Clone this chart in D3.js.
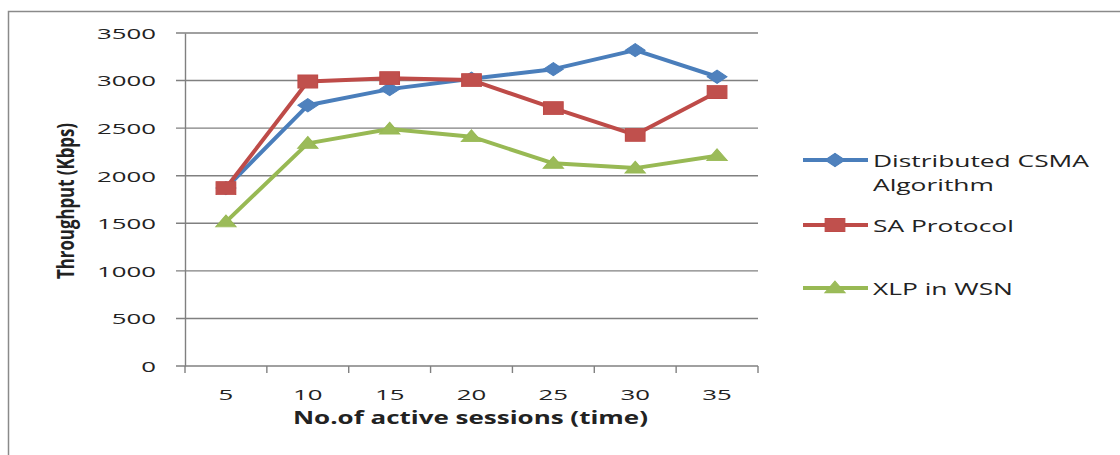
<!DOCTYPE html>
<html>
<head>
<meta charset="utf-8">
<script src="https://cdn.jsdelivr.net/npm/d3@7"></script>
<style>
  html, body { margin: 0; padding: 0; background: #fff; }
  svg { display: block; }
  text { font-family: "Open Sans", "DejaVu Sans", sans-serif; fill: #222; }
</style>
</head>
<body>
<svg id="chart" width="1120" height="455"></svg>
<script>
// Throughput per number of active sessions, one array per protocol
const sessions = [5, 10, 15, 20, 25, 30, 35];
const csmaThroughput = [1870, 2740, 2910, 3020, 3120, 3320, 3040];
const saThroughput   = [1870, 2990, 3025, 3005, 2710, 2430, 2880];
const xlpThroughput  = [1515, 2340, 2490, 2410, 2130, 2080, 2210];
const yTickValues = [0, 500, 1000, 1500, 2000, 2500, 3000, 3500];
const seriesNames = ["Distributed CSMA|Algorithm", "SA Protocol", "XLP in WSN"];

const series = [
  { name: seriesNames[0], values: csmaThroughput, line: "#4A7EBB", fill: "#4F81BD", shape: "diamond" },
  { name: seriesNames[1], values: saThroughput,   line: "#BE4B48", fill: "#C0504D", shape: "square" },
  { name: seriesNames[2], values: xlpThroughput,  line: "#98B954", fill: "#9BBB59", shape: "triangle" }
];

const svg = d3.select("#chart");

// widen glyphs horizontally by factor k (the chart's type is set wide)
function widen(sel, k) {
  sel.each(function () {
    const w = this.getComputedTextLength();
    this.setAttribute("textLength", w * k);
    this.setAttribute("lengthAdjust", "spacingAndGlyphs");
  });
}

// outer chart frame
svg.append("rect")
  .attr("x", 8.5).attr("y", 11.5)
  .attr("width", 1200).attr("height", 600)
  .attr("fill", "#fff").attr("stroke", "#8a8a8a").attr("stroke-width", 1.5);

const plot = { left: 185, right: 758, top: 33, bottom: 366 };

const x = d3.scaleBand().domain(sessions).range([plot.left, plot.right]);
const y = d3.scaleLinear().domain([0, 3500]).range([plot.bottom, plot.top]);
const cx = d => x(d) + x.bandwidth() / 2;

// horizontal gridlines, extended left as tick marks
svg.append("g").selectAll("line").data(yTickValues).join("line")
  .attr("x1", plot.left - 9).attr("x2", plot.right)
  .attr("y1", d => y(d)).attr("y2", d => y(d))
  .attr("stroke", "#808080").attr("stroke-width", 1.4);

// y axis with labels
const yAxis = svg.append("g")
  .attr("transform", `translate(${plot.left},0)`)
  .call(d3.axisLeft(y).tickValues(yTickValues).tickFormat(d3.format("d"))
    .tickSize(0).tickSizeOuter(0).tickPadding(29));
yAxis.select(".domain").attr("stroke", "#808080").attr("stroke-width", 1.4);
yAxis.selectAll("text")
  .attr("font-size", 15).attr("font-family", "Open Sans, sans-serif").attr("fill", "#333")
  .attr("dy", "0.36em");
widen(yAxis.selectAll("text"), 1.72);

// x axis: category boundary ticks and centred labels
const edges = sessions.map(d => x(d)).concat([plot.right]);
svg.append("g").selectAll("line").data(edges).join("line")
  .attr("x1", d => d).attr("x2", d => d)
  .attr("y1", plot.bottom).attr("y2", plot.bottom + 7)
  .attr("stroke", "#808080").attr("stroke-width", 1.4);

const xAxis = svg.append("g")
  .attr("transform", `translate(0,${plot.bottom})`)
  .call(d3.axisBottom(x).tickSize(0).tickSizeOuter(0));
xAxis.select(".domain").remove();
xAxis.selectAll("text")
  .attr("y", 34).attr("dy", 0)
  .attr("font-size", 15).attr("font-family", "Open Sans, sans-serif").attr("fill", "#333");
widen(xAxis.selectAll("text"), 1.72);

// axis titles
const xTitle = svg.append("text")
  .attr("x", (293 + 648) / 2).attr("y", 424)
  .attr("text-anchor", "middle")
  .attr("font-size", 17).attr("font-weight", "bold")
  .attr("textLength", 355).attr("lengthAdjust", "spacingAndGlyphs")
  .text("No.of active sessions (time)");

svg.append("text")
  .attr("transform", "translate(74,201) scale(1.75,1) rotate(-90)")
  .attr("text-anchor", "middle")
  .attr("font-size", 13).attr("font-weight", "bold")
  .attr("textLength", 156).attr("lengthAdjust", "spacingAndGlyphs")
  .text("Throughput (Kbps)");

// marker shapes
function markerPath(shape) {
  if (shape === "diamond") return d3.symbol(d3.symbolSquare, 88)();
  if (shape === "square") return d3.symbol(d3.symbolSquare, 170)();
  return d3.symbol(d3.symbolTriangle, 80)();
}
function markerTransform(shape, px, py) {
  if (shape === "diamond") return `translate(${px},${py}) scale(1.5,1) rotate(45)`;
  if (shape === "triangle") return `translate(${px},${py + 1}) scale(1.5,1)`;
  return `translate(${px},${py}) scale(1.5,1)`;
}

const line = d3.line()
  .x((d, i) => cx(sessions[i]))
  .y(d => y(d));

series.forEach(s => {
  const g = svg.append("g");
  g.append("path")
    .attr("d", line(s.values))
    .attr("fill", "none").attr("stroke", s.line)
    .attr("stroke-width", 4).attr("stroke-linejoin", "round");
  g.selectAll("path.m").data(s.values).join("path")
    .attr("class", "m")
    .attr("d", markerPath(s.shape))
    .attr("transform", (d, i) => markerTransform(s.shape, cx(sessions[i]), y(d)))
    .attr("fill", s.fill).attr("stroke", s.line).attr("stroke-width", 0.8);
});

// legend
const legendRows = [160, 225, 288];
series.forEach((s, i) => {
  const ly = legendRows[i];
  const g = svg.append("g");
  g.append("line")
    .attr("x1", 803).attr("x2", 868).attr("y1", ly).attr("y2", ly)
    .attr("stroke", s.line).attr("stroke-width", 4);
  g.append("path")
    .attr("d", markerPath(s.shape))
    .attr("transform", markerTransform(s.shape, 835, ly))
    .attr("fill", s.fill).attr("stroke", s.line).attr("stroke-width", 0.8);
  s.name.split("|").forEach((t, j) => {
    const tx = g.append("text")
      .attr("x", 873).attr("y", ly + 7 + j * 24)
      .attr("font-size", 17).attr("fill", "#222")
      .text(t);
    widen(tx, 1.55);
  });
});
</script>
</body>
</html>
